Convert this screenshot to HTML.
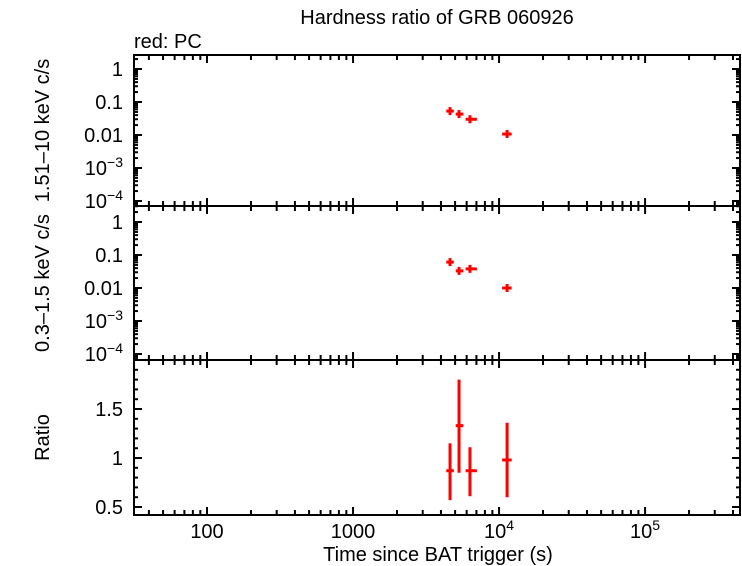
<!DOCTYPE html>
<html><head><meta charset="utf-8"><style>body{margin:0;background:#fff}svg{display:block;font-family:"Liberation Sans",sans-serif}</style></head>
<body>
<svg id="c" width="742" height="566">
<text x="437" y="24" font-size="20" text-anchor="middle">Hardness ratio of GRB 060926</text>
<text x="134" y="48" font-size="20">red: PC</text>
<text x="438" y="561" font-size="20" text-anchor="middle">Time since BAT trigger (s)</text>
<g id="g"></g>
</svg>
<script>
const times=[4615,5320,6320,11350];
const tLo=[4350,5050,5900,10500];
const tHi=[4900,5700,7050,12200];
const hard=[0.053,0.043,0.030,0.0107];
const hardErr=[0.006,0.005,0.004,0.0015];
const soft=[0.061,0.033,0.038,0.010];
const softErr=[0.008,0.005,0.005,0.0015];
const ratio=[0.87,1.33,0.87,0.98];
const ratioLo=[0.57,0.85,0.61,0.60];
const ratioHi=[1.15,1.80,1.11,1.36];
const xTicks=[100,1000,10000,100000];
const xTickLabels=["100","1000","10|4","10|5"];
const logTicks=[1,0.1,0.01,0.001,0.0001];
const logTickLabels=["1","0.1","0.01","10|−3","10|−4"];
const ratioTicks=[0.5,1,1.5];
const ratioTickLabels=["0.5","1","1.5"];

const NS="http://www.w3.org/2000/svg",g=document.getElementById('g');
const L=134,R=740;
const X=v=>L+(Math.log10(v)-1.5)/(5.65-1.5)*(R-L);
function el(t,a,p){const e=document.createElementNS(NS,t);for(const k in a)e.setAttribute(k,a[k]);(p||g).appendChild(e);return e;}
function setLabel(t,s){const parts=s.split('|');t.appendChild(document.createTextNode(parts[0]));
 if(parts[1]){const sp=el('tspan',{dy:-8,'font-size':14},t);sp.textContent=parts[1];}}
function logY(one){return v=>one-Math.log10(v)*33;}
const P=[
 {top:55,bot:206,Y:logY(69),name:'hard-band',lab:'1.51–10 keV c/s',ticks:logTicks,tl:logTickLabels,log:true},
 {top:206,bot:360,Y:logY(222),name:'soft-band',lab:'0.3–1.5 keV c/s',ticks:logTicks,tl:logTickLabels,log:true},
 {top:360,bot:515,Y:v=>458-(v-1)*98,name:'ratio',lab:'Ratio',ticks:ratioTicks,tl:ratioTickLabels,log:false}
];
P.forEach((p,pi)=>{
 const pg=el('g',{});
 
 
 el('rect',{x:L,y:p.top,width:R-L,height:p.bot-p.top,fill:'none',stroke:'#000','stroke-width':2},pg);
 for(let d=1;d<=5;d++)for(let m=1;m<10;m++){const v=m*Math.pow(10,d),x=X(v);if(x<L||x>R)continue;const len=m==1?8:5;
  el('line',{x1:x,x2:x,y1:p.bot,y2:p.bot-len,stroke:'#000','stroke-width':2},pg);
  el('line',{x1:x,x2:x,y1:p.top,y2:p.top+len,stroke:'#000','stroke-width':2},pg);}
 if(p.log){for(let d=-5;d<=0;d++)for(let m=1;m<10;m++){const v=m*Math.pow(10,d),y=p.Y(v);if(y<p.top||y>p.bot)continue;const len=m==1?8:4;
  el('line',{x1:L,x2:L+len,y1:y,y2:y,stroke:'#000','stroke-width':2},pg);
  el('line',{x1:R,x2:R-len,y1:y,y2:y,stroke:'#000','stroke-width':2},pg);}}
 else{for(let k=5;k<=20;k++){const v=k/10,y=p.Y(v);if(y<p.top||y>p.bot)continue;const len=(k%5==0)?8:4;
  el('line',{x1:L,x2:L+len,y1:y,y2:y,stroke:'#000','stroke-width':2},pg);
  el('line',{x1:R,x2:R-len,y1:y,y2:y,stroke:'#000','stroke-width':2},pg);}}
 p.ticks.forEach((v,i)=>{const t=el('text',{x:L-11,y:p.Y(v)+7,'font-size':20,'text-anchor':'end'},pg);setLabel(t,p.tl[i]);
  
  });
 const yt=el('text',{x:0,y:0,'font-size':20,'text-anchor':'middle',transform:`translate(49,${(p.top+p.bot)/2}) rotate(-90)`},pg);yt.textContent=p.lab;
 
 
 const vals=pi==0?hard:pi==1?soft:ratio;
 times.forEach((t,i)=>{
  const x=X(t),y=p.Y(vals[i]);
  let y1,y2;
  if(pi==0){y1=p.Y(hard[i]+hardErr[i]);y2=p.Y(hard[i]-hardErr[i]);}
  else if(pi==1){y1=p.Y(soft[i]+softErr[i]);y2=p.Y(soft[i]-softErr[i]);}
  else{y1=p.Y(ratioHi[i]);y2=p.Y(ratioLo[i]);}
  const pt=el('g',{},pg);
  
  
  el('line',{x1:X(tLo[i]),x2:X(tHi[i]),y1:y,y2:y,stroke:'#f00','stroke-width':3},pt);
  el('line',{x1:x,x2:x,y1:Math.min(y1,y-4),y2:Math.max(y2,y+4),stroke:'#f00','stroke-width':3},pt);
 });
});
xTicks.forEach((v,i)=>{const t=el('text',{x:X(v),y:538,'font-size':20,'text-anchor':'middle'});setLabel(t,xTickLabels[i]);
 
 });
</script>
</body></html>
